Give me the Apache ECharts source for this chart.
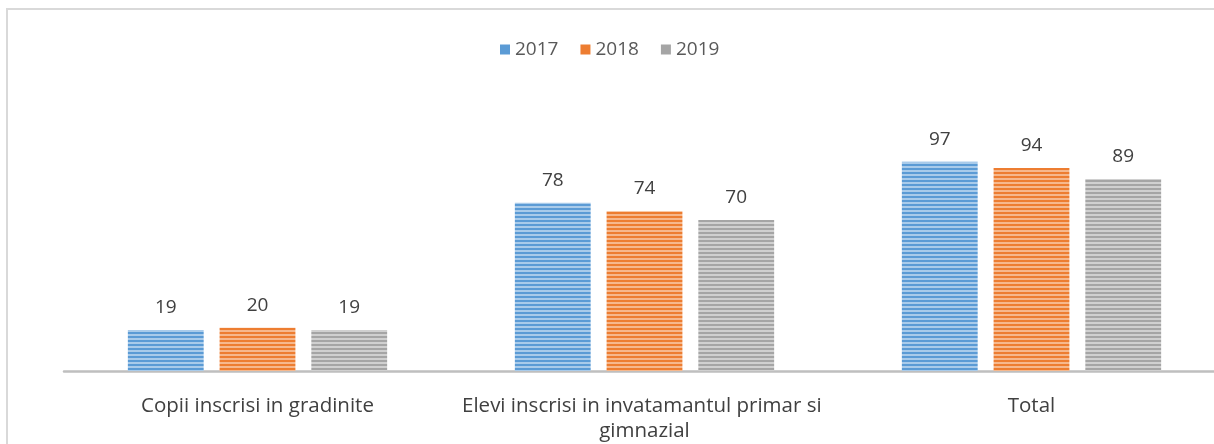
<!DOCTYPE html>
<html>
<head>
<meta charset="utf-8">
<script src="https://cdn.jsdelivr.net/npm/echarts@6/dist/echarts.min.js"></script>
<style>
  html, body { margin: 0; padding: 0; background: #fff; overflow: hidden; }
  #chart { width: 1232px; height: 444px; }
</style>
</head>
<body>
<div id="chart"></div>
<script>
const categories = ['Copii inscrisi in gradinite', 'Elevi inscrisi in invatamantul primar si gimnazial', 'Total']
const years = ['2017', '2018', '2019']
const values2017 = [19, 78, 97]
const values2018 = [20, 74, 94]
const values2019 = [19, 70, 89]

// striped fill like the office "horizontal lines" pattern
function stripes(dark, light) {
  const c = document.createElement('canvas')
  c.width = 4
  c.height = 4
  const ctx = c.getContext('2d')
  ctx.fillStyle = light
  ctx.fillRect(0, 0, 4, 4)
  ctx.fillStyle = dark
  ctx.fillRect(0, 0, 4, 2)
  return { image: c, repeat: 'repeat' }
}

const palette = [
  { solid: '#5B9BD5', fill: stripes('#5B9BD5', '#A9CBEA') },
  { solid: '#ED7D31', fill: stripes('#ED7D31', '#F6B88D') },
  { solid: '#A5A5A5', fill: stripes('#A5A5A5', '#D0D0D0') },
]

const seriesData = [values2017, values2018, values2019]
const font = 'Open Sans, sans-serif'

// the plot area runs a little past the right edge of the picture,
// so the chart div is wider than the window
const chart = echarts.init(document.getElementById('chart'))

chart.setOption({
  animation: false,
  textStyle: { fontFamily: font },
  graphic: [
    {
      type: 'rect',
      shape: { x: 7, y: 9, width: 1240, height: 450 },
      style: { fill: 'none', stroke: '#D9D9D9', lineWidth: 2 },
      silent: true,
    },
  ],
  legend: {
    top: 35,
    left: 495,
    itemWidth: 10,
    itemHeight: 10,
    itemGap: 22,
    icon: 'rect',
    textStyle: { fontSize: 19, color: '#595959', fontFamily: font },
    data: years.map((y, i) => ({ name: y, itemStyle: { color: palette[i].solid } })),
  },
  grid: {
    top: 112,
    bottom: 70,
    left: 64,
    right: 7,
    containLabel: false,
  },
  xAxis: {
    type: 'category',
    data: categories,
    axisLine: { lineStyle: { color: '#BFBFBF', width: 2.5 } },
    axisTick: { show: false },
    axisLabel: {
      color: '#404040',
      fontSize: 20.5,
      fontFamily: font,
      margin: 23,
      width: 380,
      overflow: 'break',
      lineHeight: 25,
      interval: 0,
    },
  },
  yAxis: {
    type: 'value',
    min: 0,
    max: 120,
    show: false,
    splitLine: { show: false },
  },
  series: years.map((y, i) => ({
    name: y,
    type: 'bar',
    data: seriesData[i],
    barGap: '21%',
    barCategoryGap: '33%',
    itemStyle: { color: palette[i].fill },
    label: {
      show: true,
      position: 'top',
      distance: 13,
      color: '#404040',
      fontSize: 19,
      fontFamily: font,
    },
  })),
})
</script>
</body>
</html>
